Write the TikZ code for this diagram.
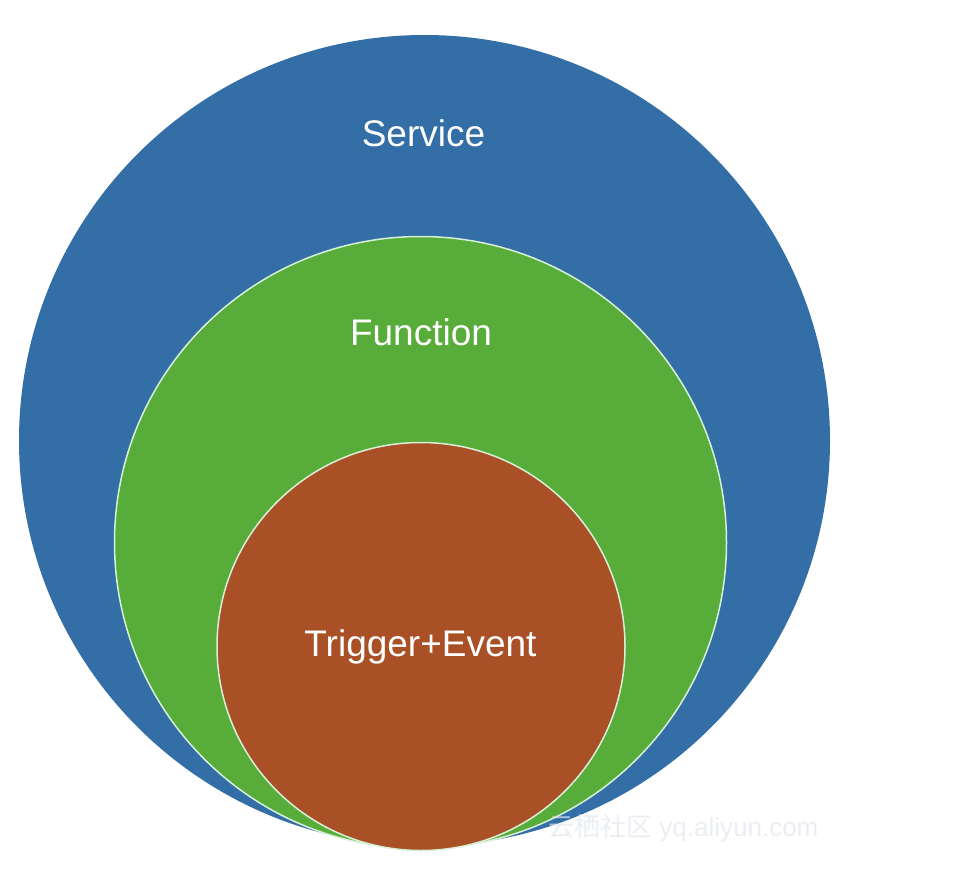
\documentclass[tikz,border=0pt]{standalone}
\usepackage{fontspec}
\setmainfont{Liberation Sans}
\newfontfamily\cjk{Noto Sans CJK SC}
\usepackage{xcolor}

\definecolor{serviceblue}{RGB}{51,110,166}
\definecolor{functiongreen}{RGB}{88,172,58}
\definecolor{triggerred}{RGB}{170,80,38}
\definecolor{ringline}{RGB}{215,240,215}
\definecolor{marklight}{RGB}{225,230,236}

\tikzset{
  ring/.style={draw=ringline, line width=1.5pt},
  label/.style={text=white, font=\fontsize{37}{44}\selectfont, inner sep=0pt, anchor=base},
}

\begin{document}
\begin{tikzpicture}[x=1pt,y=-1pt]
\useasboundingbox (0,0) rectangle (964,870);

% nested circles
\fill [serviceblue] (424.5,440.5) circle [radius=405.5];
\filldraw [fill=functiongreen, ring] (420.5,542.5) circle [radius=306];
\filldraw [fill=triggerred, ring] (421,646.5) circle [radius=204];

\node [label] (service) at (423.5,146) {Service};
\node [label] (function) at (421,345) {Function};
\node [label] (trigger) at (420.5,656) {Trigger+Event};

% watermark
\node [text=marklight, opacity=0.7, inner sep=0pt, anchor=west,
       font=\fontsize{26}{30}\selectfont] (mark) at (548,828)
      {{\cjk 云栖社区} yq.aliyun.com};
\end{tikzpicture}
\end{document}
